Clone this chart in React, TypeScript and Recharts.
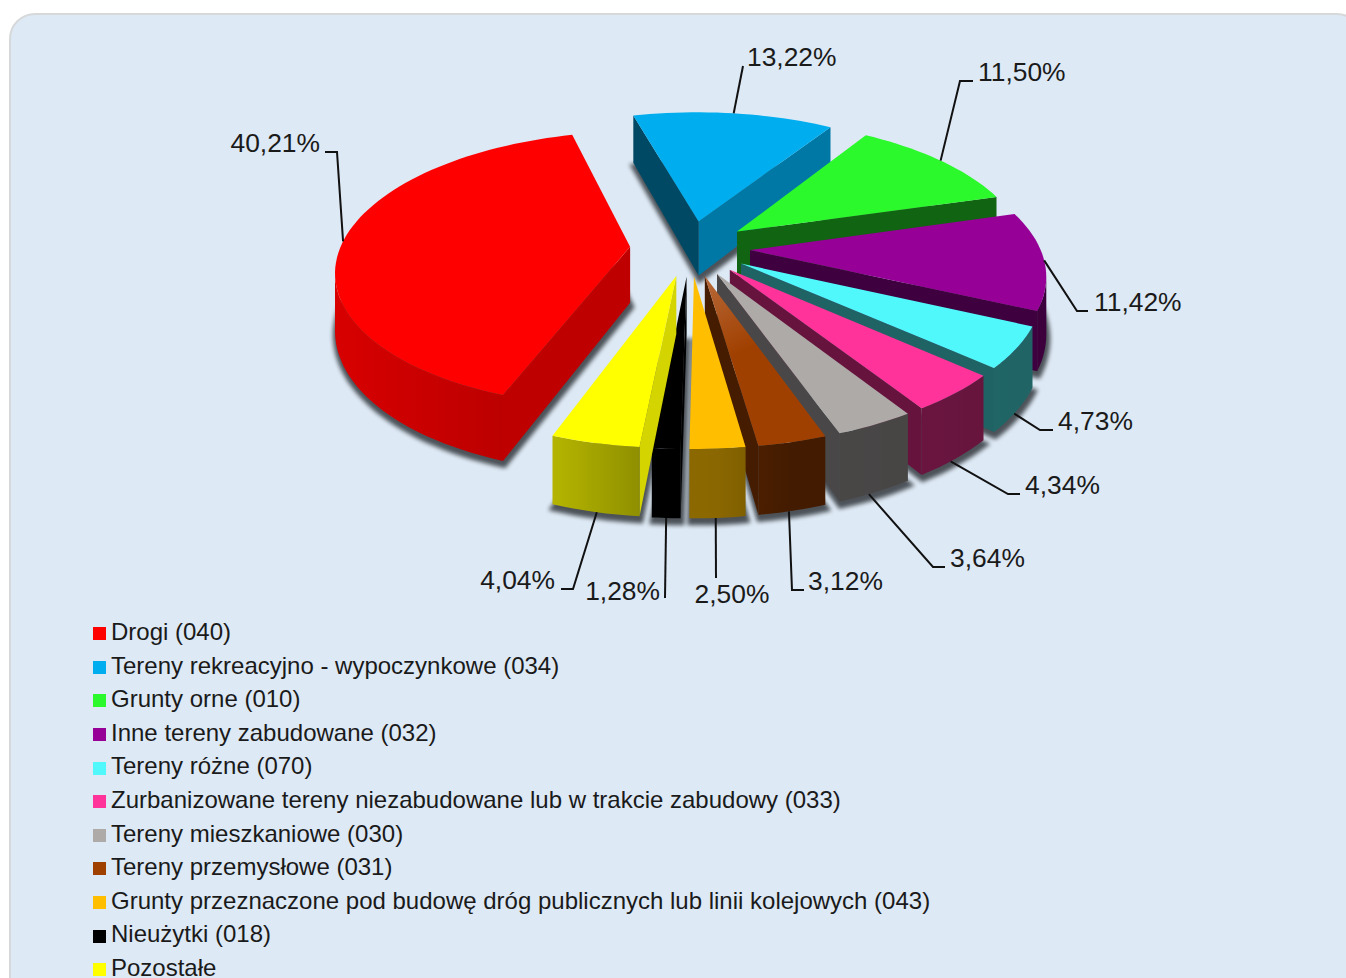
import React from 'react';
import { PieChart, Pie, Legend } from 'recharts';

const names = [
  'Drogi (040)',
  'Tereny rekreacyjno - wypoczynkowe (034)',
  'Grunty orne (010)',
  'Inne tereny zabudowane (032)',
  'Tereny różne (070)',
  'Zurbanizowane tereny niezabudowane lub w trakcie zabudowy (033)',
  'Tereny mieszkaniowe (030)',
  'Tereny przemysłowe (031)',
  'Grunty przeznaczone pod budowę dróg publicznych lub linii kolejowych (043)',
  'Nieużytki (018)',
  'Pozostałe',
];
const shares = [40.21, 13.22, 11.5, 11.42, 4.73, 4.34, 3.64, 3.12, 2.5, 1.28, 4.04];
const colors = ['#ff0000', '#00aeef', '#2bf92b', '#960096', '#50f8fc', '#ff3399', '#aeaaa8', '#a04000', '#ffbf00', '#000000', '#ffff00'];

// brightness of the two radial walls of each slice [clockwise start, clockwise end]
const wallShades = [
  [0.75, 0.3], [0.42, 0.69], [0.4, 0.4], [0.42, 0.42], [0.4, 0.4], [0.4, 0.4],
  [0.42, 0.42], [0.43, 0.43], [0.54, 0.54], [1, 1], [0.83, 0.83],
];

// label leader lines, relative to the pie centre: elbow, line end, text position
// shift nudges the point where the line meets the slice, in degrees
const labelLayout = [
  { on: 'top', shift: 0, elbow: [-353, -96], end: [-365, -96], text: [-370, -96], anchor: 'end' },
  { on: 'top', shift: 0, elbow: [53, -182], end: [53, -182], text: [57, -182], anchor: 'start' },
  { on: 'top', shift: 0, elbow: [270, -167], end: [283, -167], text: [288, -167], anchor: 'start' },
  { on: 'top', shift: 0, elbow: [387, 63], end: [398, 63], text: [404, 63], anchor: 'start' },
  { on: 'bottom', shift: -1.2, elbow: [350, 182], end: [363, 182], text: [368, 182], anchor: 'start' },
  { on: 'bottom', shift: -1.2, elbow: [318, 246], end: [330, 246], text: [335, 246], anchor: 'start' },
  { on: 'bottom', shift: -1.2, elbow: [243, 319], end: [255, 319], text: [260, 319], anchor: 'start' },
  { on: 'bottom', shift: -0.6, elbow: [102, 342], end: [114, 342], text: [118, 342], anchor: 'start' },
  { on: 'bottom', shift: -0.3, elbow: [26, 330], end: [26, 330], text: [42, 355], anchor: 'middle' },
  { on: 'bottom', shift: 0, elbow: [-25, 350], end: [-25, 350], text: [-30, 352], anchor: 'end' },
  { on: 'bottom', shift: 0.3, elbow: [-117, 341], end: [-129, 341], text: [-135, 341], anchor: 'end' },
];

const tableData = names.map((name, i) => ({ name, value: shares[i], fill: colors[i] }));

const W = 1346;
const H = 978;
const CX = 690;
const CY = 248;
const RADIUS = 290;
const RY = 134.4; // vertical radius of the tilted disc
const PERSP = 0.16;
const DEPTH = 56; // wall height
const PULL = 60; // explode distance
const START = 250;
const BROWN = 7; // only this top face has a lighter tip
const FONT = '"Liberation Sans", Arial, sans-serif';
const RAD = Math.PI / 180;

// world (x, z) on the disc plane -> screen, z > 0 towards the viewer
const project = (cx: number, cy: number, wx: number, wz: number, h = 0) => {
  const s = 1 / (1 - (PERSP * wz) / RADIUS);
  return [cx + wx * s, cy + (RY / RADIUS) * wz * s + h * s];
};

const rimPoint = (p: any, angle: number, h = 0, r = p.outerRadius) => {
  const mid = p.midAngle * RAD;
  const a = angle * RAD;
  const wx = PULL * Math.cos(mid) + r * Math.cos(a);
  const wz = -PULL * Math.sin(mid) - r * Math.sin(a);
  return project(p.cx, p.cy, wx, wz, h);
};

const toPath = (pts: number[][]) => 'M' + pts.map((q) => `${q[0].toFixed(1)},${q[1].toFixed(1)}`).join('L') + 'Z';

const scale = (hex: string, k: number) => {
  const n = parseInt(hex.slice(1), 16);
  const c = [(n >> 16) & 255, (n >> 8) & 255, n & 255].map((v) => Math.round(v * k));
  return `rgb(${c[0]},${c[1]},${c[2]})`;
};

// outer wall gets darker to the right of the chart
const SHADE_X = [-360, -130, -50, 30, 100, 400];
const SHADE_K = [0.85, 0.7, 0.56, 0.54, 0.42, 0.4];
const wallShade = (dx: number) => {
  if (dx <= SHADE_X[0]) return SHADE_K[0];
  for (let i = 1; i < SHADE_X.length; i++) {
    if (dx <= SHADE_X[i]) {
      const t = (dx - SHADE_X[i - 1]) / (SHADE_X[i] - SHADE_X[i - 1]);
      return SHADE_K[i - 1] + t * (SHADE_K[i] - SHADE_K[i - 1]);
    }
  }
  return SHADE_K[SHADE_K.length - 1];
};

const arcAngles = (p: any) => {
  const steps = Math.max(6, Math.ceil(Math.abs(p.endAngle - p.startAngle) / 2));
  return Array.from({ length: steps + 1 }, (_, i) => p.startAngle + ((p.endAngle - p.startAngle) * i) / steps);
};

// blurred footprint below all slices
const ShadowSlice = (p: any) => {
  const pts = [rimPoint(p, 0, DEPTH, 0), ...arcAngles(p).map((a) => rimPoint(p, a, DEPTH))];
  return (
    <path
      d={toPath(pts)}
      fill="#1c2024"
      stroke="#1c2024"
      strokeWidth={6}
      opacity={0.75}
      transform="translate(1,4)"
      style={{ filter: 'blur(2px)' }}
    />
  );
};

const Slice3D = (p: any) => {
  const i = names.indexOf(p.name);
  const color = colors[i];
  const angles = arcAngles(p);
  const apex = rimPoint(p, 0, 0, 0);
  const apexLow = rimPoint(p, 0, DEPTH, 0);
  const first = rimPoint(p, p.startAngle);
  const last = rimPoint(p, p.endAngle);

  const walls: React.ReactNode[] = [];
  if (first[0] < apex[0]) {
    walls.push(<path key="s" d={toPath([apex, first, rimPoint(p, p.startAngle, DEPTH), apexLow])} fill={scale(color, wallShades[i][0])} />);
  }
  if (last[0] > apex[0]) {
    walls.push(<path key="e" d={toPath([apex, last, rimPoint(p, p.endAngle, DEPTH), apexLow])} fill={scale(color, wallShades[i][1])} />);
  }

  // only the part of the rim running leftwards on screen faces the viewer
  const tops = angles.map((a) => rimPoint(p, a));
  const lows = angles.map((a) => rimPoint(p, a, DEPTH));
  const vis: number[] = [];
  for (let k = 0; k < tops.length - 1; k++) {
    if (tops[k + 1][0] < tops[k][0]) vis.push(k, k + 1);
  }
  let rim = null;
  if (vis.length) {
    const a = Math.min(...vis);
    const b = Math.max(...vis);
    const x0 = tops[b][0];
    const x1 = tops[a][0];
    const id = `rim-${i}`;
    rim = (
      <>
        <linearGradient id={id} gradientUnits="userSpaceOnUse" x1={x0} x2={x1} y1={0} y2={0}>
          {[0, 0.25, 0.5, 0.75, 1].map((t) => (
            <stop key={t} offset={t} stopColor={scale(color, wallShade(x0 + t * (x1 - x0) - p.cx))} />
          ))}
        </linearGradient>
        <path d={toPath([...tops.slice(a, b + 1), ...lows.slice(a, b + 1).reverse()])} fill={`url(#${id})`} />
      </>
    );
  }

  const tip = tops[Math.floor(tops.length / 2)];
  return (
    <g>
      {walls}
      {rim}
      {i === BROWN && (
        <linearGradient id="brown-top" gradientUnits="userSpaceOnUse" x1={apex[0]} y1={apex[1]} x2={tip[0]} y2={tip[1]}>
          <stop offset={0} stopColor="#b8693a" />
          <stop offset={0.45} stopColor={color} />
        </linearGradient>
      )}
      <path d={toPath([apex, ...tops])} fill={i === BROWN ? 'url(#brown-top)' : color} />
    </g>
  );
};

const renderLabel = (p: any) => {
  const cfg = labelLayout[p.index];
  const from = rimPoint(p, p.midAngle + cfg.shift, cfg.on === 'top' ? 0 : DEPTH);
  const pts = [from, [p.cx + cfg.elbow[0], p.cy + cfg.elbow[1]], [p.cx + cfg.end[0], p.cy + cfg.end[1]]];
  return (
    <g>
      <polyline points={pts.map((q) => q.join(',')).join(' ')} fill="none" stroke="#111" strokeWidth={2} />
      <text
        x={p.cx + cfg.text[0]}
        y={p.cy + cfg.text[1]}
        textAnchor={cfg.anchor as any}
        fontFamily={FONT}
        fontSize={26.4}
        fill="#1a1a1a"
      >
        {p.value.toFixed(2).replace('.', ',')}%
      </text>
    </g>
  );
};

export default function App() {
  return (
    <div style={{ position: 'absolute', left: 0, top: 0, width: W, height: H, overflow: 'hidden', background: '#fff' }}>
      <div
        style={{
          position: 'absolute',
          left: 9,
          top: 13,
          width: 1350,
          height: 1010,
          borderRadius: 26,
          border: '2px solid #d6d8da',
          background: '#dde9f5',
        }}
      />
      <div style={{ position: 'absolute', left: 0, top: 0 }}>
        <PieChart width={W} height={H} margin={{ top: 0, right: 0, bottom: 0, left: 0 }}>
          <Pie
            data={tableData}
            dataKey="value"
            cx={CX}
            cy={CY}
            innerRadius={0}
            outerRadius={RADIUS}
            startAngle={START}
            endAngle={START - 360}
            stroke="none"
            legendType="none"
            isAnimationActive={false}
            shape={ShadowSlice}
          />
          <Pie
            data={tableData}
            dataKey="value"
            cx={CX}
            cy={CY}
            innerRadius={0}
            outerRadius={RADIUS}
            startAngle={START}
            endAngle={START - 360}
            stroke="none"
            isAnimationActive={false}
            shape={Slice3D}
            label={renderLabel}
            labelLine={false}
          />
          <Legend
            layout="vertical"
            align="center"
            verticalAlign="middle"
            iconType="square"
            iconSize={13}
            itemSorter={null}
            wrapperStyle={{ left: 93, top: 615, width: 1100, height: 380, fontFamily: FONT, fontSize: 24, lineHeight: '33.6px', textAlign: 'left' }}
            formatter={(value: string) => <span style={{ color: '#1a1a1a', marginLeft: 1 }}>{value}</span>}
          />
        </PieChart>
      </div>
    </div>
  );
}
